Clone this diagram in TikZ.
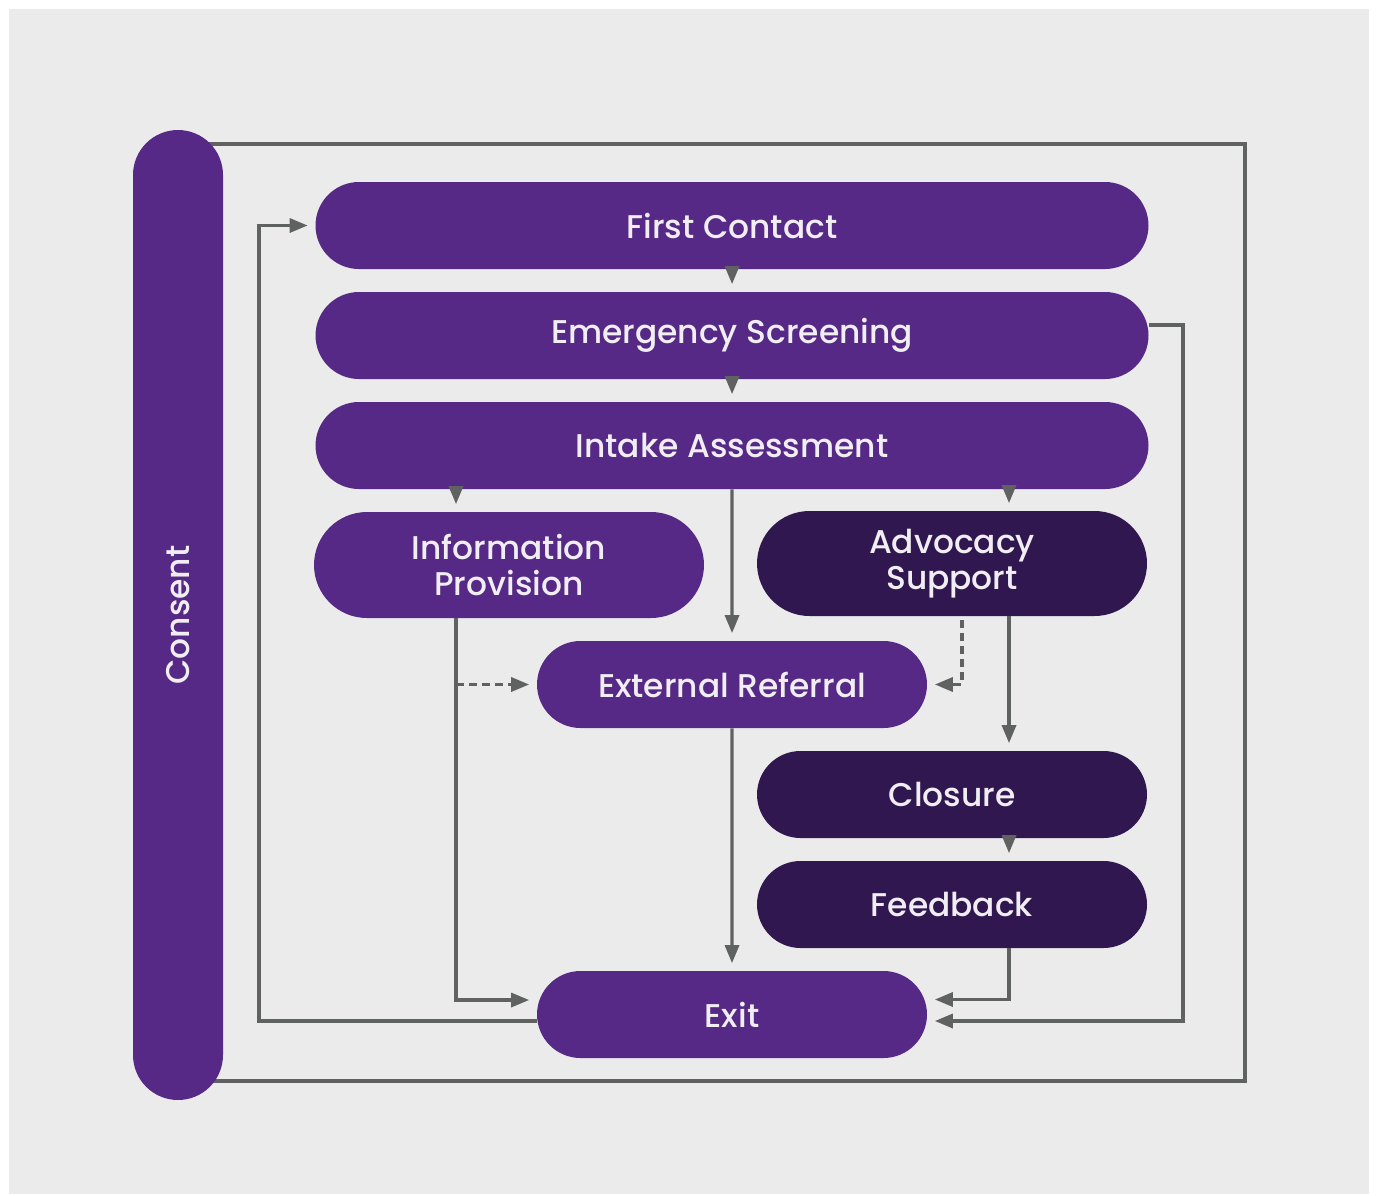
\documentclass[tikz,border=0pt]{standalone}
\usepackage{fontspec}
\setmainfont{Poppins Medium}
\usetikzlibrary{arrows.meta,shapes.misc}
\definecolor{colFond}{RGB}{235,235,235}
\definecolor{colViolet}{RGB}{85,41,133}
\definecolor{colNuit}{RGB}{49,23,80}
\definecolor{colGris}{RGB}{96,98,97}
\definecolor{colTexte}{RGB}{240,238,242}

\begin{document}
\begin{tikzpicture}[font=\fontsize{18.7}{20.5}\selectfont,
    etape/.style={rounded rectangle, fill=colViolet, text=colTexte,
      align=center, inner sep=2pt, minimum height=1.74cm},
    nuit/.style={etape, fill=colNuit},
    fl/.style={-{Triangle[length=0.36cm, width=0.28cm]}, line width=0.065cm,
      colGris, shorten >=0.15cm},
    tirets/.style={dash pattern=on 0.16cm off 0.1cm}]
    \useasboundingbox (0,0) rectangle (27.52,-23.9);
    \fill[colFond] (0.18,-0.18) rectangle (27.38,-23.88);
    % cadre autour des etapes
    \draw[line width=0.065cm, colGris] (3.56,-2.88) -| (24.9,-21.62) -- (3.56,-21.62);
    \node[etape, rotate=90, minimum width=19.54cm, minimum height=1.8cm]
      (consent) at (3.56,-12.3) {Consent};
    \node[etape, minimum width=16.8cm] (first)  at (14.64,-4.51) {First Contact};
    \node[etape, minimum width=16.8cm] (emerg)  at (14.64,-6.71) {Emergency Screening};
    \node[etape, minimum width=16.8cm] (intake) at (14.64,-8.91) {Intake Assessment};
    \node[etape, minimum width=7.94cm, minimum height=2.12cm]
      (info) at (10.18,-11.3) {Information\\Provision};
    \node[nuit, minimum width=7.94cm, minimum height=2.1cm]
      (advoc) at (19.04,-11.27) {Advocacy\\Support};
    \node[etape, minimum width=7.94cm] (extref) at (14.64,-13.69) {External Referral};
    \node[nuit, minimum width=7.94cm] (closure)  at (19.04,-15.89) {Closure};
    \node[nuit, minimum width=7.94cm] (feedback) at (19.04,-18.09) {Feedback};
    \node[etape, minimum width=7.94cm] (exit) at (14.64,-20.29) {Exit};
    % voies verticales
    \coordinate (vInfo)   at (9.12,0);
    \coordinate (vAdv)    at (20.18,0);
    \coordinate (vTiret)  at (19.24,0);
    \coordinate (vDroite) at (23.66,-20.42);
    \coordinate (vGauche) at (5.18,-4.51);
    \draw[fl] (first) -- (emerg);
    \draw[fl] (emerg) -- (intake);
    \draw[fl] (intake.south -| vInfo) -- (info.north -| vInfo);
    \draw[fl] (intake.south -| vAdv) -- (advoc.north -| vAdv);
    \draw[fl] (intake) -- (extref);
    \draw[fl] (info.south -| vInfo) |- ([yshift=0.29cm]exit.west);
    \draw[fl, tirets] (vInfo |- extref) -- (extref);
    \draw[fl, tirets] ([yshift=-0.08cm]advoc.south -| vTiret) |- (extref);
    \draw[fl] (advoc.south -| vAdv) -- (closure.north -| vAdv);
    \draw[fl] (closure.south -| vAdv) -- (feedback.north -| vAdv);
    \draw[fl] (feedback.south -| vAdv) |- ([yshift=0.3cm]exit.east);
    \draw[fl] (extref) -- (exit);
    \draw[fl] ([yshift=0.21cm]emerg.east) -| (vDroite) -- ([yshift=-0.13cm]exit.east);
    \draw[fl] ([yshift=-0.13cm]exit.west) -| (vGauche) -- (first);
  \end{tikzpicture}
\end{document}
